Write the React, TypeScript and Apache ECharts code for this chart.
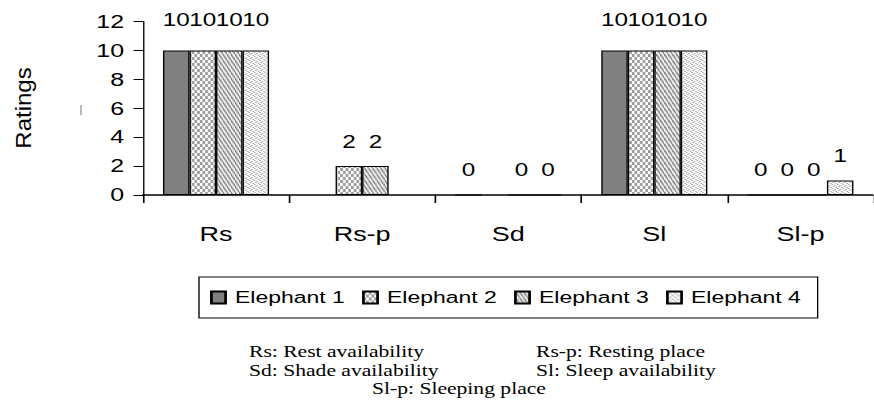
import React, { useEffect, useRef } from 'react';
import * as echarts from 'echarts';

const categories = ['Rs', 'Rs-p', 'Sd', 'Sl', 'Sl-p'];
const seriesNames = ['Elephant 1', 'Elephant 2', 'Elephant 3', 'Elephant 4'];
const elephant1: (number | null)[] = [10, null, 0, 10, 0];
const elephant2: (number | null)[] = [10, 2, null, 10, 0];
const elephant3: (number | null)[] = [10, 2, 0, 10, 0];
const elephant4: (number | null)[] = [10, null, 0, 10, 1];
const yMin = 0;
const yMax = 12;
const yStep = 2;
const axisTitle = 'Ratings';
const footnotes = [
  'Rs: Rest availability',
  'Rs-p: Resting place',
  'Sd: Shade availability',
  'Sl: Sleep availability',
  'Sl-p: Sleeping place',
];

const S = 1.35; // horizontal stretch of the reference picture
const W = 874 / S;
const H = 419;

function makePattern(kind: string) {
  let w = 4;
  let h = 4;
  if (kind === 'checker') { w = 4; h = 6; }
  if (kind === 'diag') { w = 3; h = 6; }
  const c = document.createElement('canvas');
  c.width = w;
  c.height = h;
  const ctx = c.getContext('2d')!;
  ctx.fillStyle = '#ffffff';
  ctx.fillRect(0, 0, w, h);
  if (kind === 'checker') {
    ctx.fillStyle = '#999999';
    ctx.fillRect(0, 0, 2, 3);
    ctx.fillRect(2, 3, 2, 3);
  } else if (kind === 'diag') {
    ctx.strokeStyle = '#6e6e6e';
    ctx.lineWidth = 1.1;
    for (const k of [-w, 0, w]) {
      ctx.beginPath();
      ctx.moveTo(k, 0);
      ctx.lineTo(k + w, h);
      ctx.stroke();
    }
  } else if (kind === 'dots') {
    ctx.fillStyle = '#999999';
    ctx.fillRect(0, 0, 1, 1);
    ctx.fillRect(2, 1, 1, 1);
    ctx.fillRect(1, 2, 1, 1);
    ctx.fillRect(3, 3, 1, 1);
  }
  return { image: c.toDataURL(), repeat: 'repeat', imageWidth: w, imageHeight: h };
}

export default function App() {
  const ref = useRef<HTMLDivElement>(null);
  useEffect(() => {
    if (!ref.current) return;
    const chart = echarts.init(ref.current, null, { renderer: 'svg' });
    const fills: any[] = ['#808080', makePattern('checker'), makePattern('diag'), makePattern('dots')];
    const seriesData = [elephant1, elephant2, elephant3, elephant4];
    const font = 'Liberation Sans, Arial, sans-serif';
    const serif = 'Liberation Serif, Times New Roman, serif';

    const option: any = {
      animation: false,
      backgroundColor: '#ffffff',
      grid: { left: 143 / S, top: 21.5, width: 744 / S, height: 173.5, containLabel: false },
      xAxis: {
        type: 'category',
        data: categories,
        axisLine: { show: true, lineStyle: { color: '#000', width: 1.5 } },
        axisTick: { show: true, interval: 0, alignWithLabel: false, length: 8, lineStyle: { color: '#000', width: 1.2 } },
        axisLabel: { interval: 0, margin: 29, color: '#000', fontSize: 20, fontFamily: font },
        splitLine: { show: false },
      },
      yAxis: {
        type: 'value',
        min: yMin,
        max: yMax,
        interval: yStep,
        axisLine: { show: true, lineStyle: { color: '#000', width: 1 } },
        axisTick: { show: true, inside: false, length: 7, lineStyle: { color: '#000', width: 1 } },
        axisLabel: { margin: 14, color: '#000', fontSize: 18.5, fontFamily: font },
        splitLine: { show: false },
      },
      legend: {
        data: seriesNames,
        left: 199 / S,
        top: 277,
        orient: 'horizontal',
        icon: 'rect',
        itemWidth: 10.5,
        itemHeight: 12,
        itemGap: 12.8,
        padding: [12, 12.5, 12, 8.2],
        borderColor: '#000',
        borderWidth: 1,
        textStyle: { color: '#000', fontSize: 17, fontFamily: font, padding: [0, 0, 0, 2] },
      },
      series: seriesData.map((vals, i) => ({
        name: seriesNames[i],
        type: 'bar',
        barGap: '0%',
        barCategoryGap: '27.4%',
        data: vals.map((v) =>
          v === null ? '-' : { value: v, label: { distance: v >= 10 ? 21 : 15 } }
        ),
        itemStyle: { color: fills[i], borderColor: '#000', borderWidth: 1 },
        label: { show: true, position: 'top', color: '#000', fontSize: 18, fontFamily: font },
      })),
      graphic: [
        {
          type: 'text',
          x: 23 / S,
          y: 108,
          rotation: Math.PI / 2,
          scaleX: 1.5,
          style: { text: axisTitle, fill: '#000', font: `16px ${font}`, align: 'center', verticalAlign: 'middle' },
        },
        {
          type: 'line',
          shape: { x1: 81 / S, y1: 105, x2: 81 / S, y2: 115 },
          style: { stroke: '#9a9a9a', lineWidth: 1 },
        },
        {
          type: 'text', x: 249 / S, y: 352,
          style: { text: footnotes[0], fill: '#000', font: `16px ${serif}`, align: 'left', verticalAlign: 'middle' },
        },
        {
          type: 'text', x: 536 / S, y: 352,
          style: { text: footnotes[1], fill: '#000', font: `16px ${serif}`, align: 'left', verticalAlign: 'middle' },
        },
        {
          type: 'text', x: 249 / S, y: 370.5,
          style: { text: footnotes[2], fill: '#000', font: `16px ${serif}`, align: 'left', verticalAlign: 'middle' },
        },
        {
          type: 'text', x: 536 / S, y: 370.5,
          style: { text: footnotes[3], fill: '#000', font: `16px ${serif}`, align: 'left', verticalAlign: 'middle' },
        },
        {
          type: 'text', x: 372 / S, y: 388.5,
          style: { text: footnotes[4], fill: '#000', font: `16px ${serif}`, align: 'left', verticalAlign: 'middle' },
        },
      ],
    };
    chart.setOption(option);
    return () => chart.dispose();
  }, []);

  return (
    <div style={{ position: 'fixed', left: 0, top: 0, width: 874, height: H, overflow: 'hidden', background: '#fff' }}>
      <div ref={ref} style={{ width: W, height: H, transform: `scaleX(${S})`, transformOrigin: '0 0' }} />
    </div>
  );
}
